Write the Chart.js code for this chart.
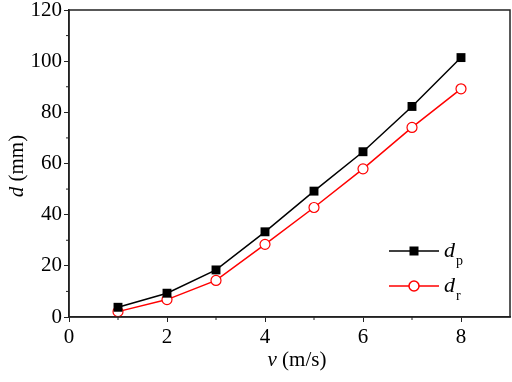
<!DOCTYPE html>
<html>
<head>
<meta charset="utf-8">
<script src="https://cdn.jsdelivr.net/npm/chart.js@4"></script>
<style>
  html, body { margin: 0; padding: 0; background: #fff; }
  #wrap { width: 512px; height: 382px; }
</style>
</head>
<body>
<div id="wrap"><canvas id="c" width="512" height="382"></canvas></div>
<script>
var speeds = [1, 2, 3, 4, 5, 6, 7, 8];
var dpValues = [3.8, 9.3, 18.4, 33.3, 49.2, 64.6, 82.3, 101.4];
var drValues = [2.1, 6.8, 14.3, 28.4, 42.8, 57.9, 74.1, 89.2];
var xTicks = [0, 2, 4, 6, 8];
var yTicks = [0, 20, 40, 60, 80, 100, 120];

var fontFam = '"Liberation Serif", "DejaVu Serif", serif';
var axisColor = '#222';

function pts(vals) {
    return speeds.map(function(v, i) { return { x: v, y: vals[i] }; });
}

// draws "italic + rest" centred at (0,0) of current transform
function mixedTitle(ctx, it, rest) {
    ctx.font = 'italic 21px ' + fontFam;
    var w1 = ctx.measureText(it).width;
    ctx.font = '21px ' + fontFam;
    var w2 = ctx.measureText(rest).width;
    var x0 = -(w1 + w2) / 2;
    ctx.textAlign = 'left';
    ctx.textBaseline = 'alphabetic';
    ctx.font = 'italic 21px ' + fontFam;
    ctx.fillText(it, x0, 0);
    ctx.font = '21px ' + fontFam;
    ctx.fillText(rest, x0 + w1, 0);
}

function noPad(s) {
    s.paddingTop = 0; s.paddingBottom = 0;
    s.paddingLeft = 0; s.paddingRight = 0;
}

// frame, minor ticks, titles and legend with subscripts
var extras = {
    id: 'extras',
    afterDraw: function(chart) {
        var ctx = chart.ctx;
        var a = chart.chartArea;
        var xs = chart.scales.x, ys = chart.scales.y;
        ctx.save();
        ctx.strokeStyle = axisColor;
        ctx.lineWidth = 1.5;
        ctx.strokeRect(a.left, a.top, a.right - a.left, a.bottom - a.top);

        // minor ticks
        ctx.lineWidth = 1;
        for (var v = 10; v < 120; v += 20) {
            var py = ys.getPixelForValue(v);
            ctx.beginPath(); ctx.moveTo(a.left - 3, py); ctx.lineTo(a.left, py); ctx.stroke();
        }
        for (var u = 1; u < 9; u += 2) {
            var px = xs.getPixelForValue(u);
            ctx.beginPath(); ctx.moveTo(px, a.bottom); ctx.lineTo(px, a.bottom + 3); ctx.stroke();
        }

        // axis titles
        ctx.fillStyle = '#000';
        ctx.save();
        ctx.translate(297, 366);
        mixedTitle(ctx, 'v', ' (m/s)');
        ctx.restore();
        ctx.save();
        ctx.translate(23, 166);
        ctx.rotate(-Math.PI / 2);
        mixedTitle(ctx, 'd', ' (mm)');
        ctx.restore();

        // legend
        var rows = [
            { y: 251, color: '#000', sub: 'p', square: true },
            { y: 286, color: '#ff0000', sub: 'r', square: false }
        ];
        rows.forEach(function(r) {
            ctx.strokeStyle = r.color;
            ctx.lineWidth = 1.5;
            ctx.beginPath(); ctx.moveTo(389, r.y); ctx.lineTo(439, r.y); ctx.stroke();
            if (r.square) {
                ctx.fillStyle = '#000';
                ctx.fillRect(414 - 4.5, r.y - 4.5, 9, 9);
            } else {
                ctx.fillStyle = '#fff';
                ctx.beginPath(); ctx.arc(414, r.y, 5, 0, Math.PI * 2); ctx.fill(); ctx.stroke();
            }
            ctx.fillStyle = '#000';
            ctx.textBaseline = 'alphabetic';
            ctx.textAlign = 'left';
            ctx.font = 'italic 22px ' + fontFam;
            ctx.fillText('d', 444, r.y + 6);
            ctx.font = '14px ' + fontFam;
            ctx.fillText(r.sub, 456, r.y + 14);
        });
        ctx.restore();
    }
};

new Chart(document.getElementById('c').getContext('2d'), {
    type: 'line',
    data: {
        datasets: [
            {
                label: 'dp',
                data: pts(dpValues),
                borderColor: '#000',
                backgroundColor: '#000',
                borderWidth: 1.5,
                pointStyle: 'rect',
                pointRadius: 6.3,
                pointBorderWidth: 0,
                tension: 0
            },
            {
                label: 'dr',
                data: pts(drValues),
                borderColor: '#ff0000',
                backgroundColor: '#fff',
                borderWidth: 1.5,
                pointStyle: 'circle',
                pointRadius: 5,
                pointBorderWidth: 1.2,
                tension: 0
            }
        ]
    },
    options: {
        responsive: false,
        animation: false,
        layout: { autoPadding: false, padding: { top: 10, right: 2, left: 0, bottom: 0 } },
        plugins: { legend: { display: false }, tooltip: { enabled: false } },
        scales: {
            x: {
                type: 'linear',
                min: 0, max: 9,
                afterBuildTicks: function(s) { s.ticks = xTicks.map(function(v) { return { value: v }; }); },
                afterFit: function(s) { s.height = 65; noPad(s); },
                grid: { drawOnChartArea: false, tickLength: 5, color: axisColor, lineWidth: 1 },
                border: { color: axisColor, width: 1.5 },
                ticks: { color: '#000', padding: 3, maxRotation: 0, font: { family: fontFam, size: 21 } },
                title: { display: false }
            },
            y: {
                type: 'linear',
                min: 0, max: 120,
                afterBuildTicks: function(s) { s.ticks = yTicks.map(function(v) { return { value: v }; }); },
                afterFit: function(s) { s.width = 69; noPad(s); },
                grid: { drawOnChartArea: false, tickLength: 5, color: axisColor, lineWidth: 1 },
                border: { color: axisColor, width: 1.5 },
                ticks: { color: '#000', padding: 2, font: { family: fontFam, size: 21 } },
                title: { display: false }
            }
        }
    },
    plugins: [extras]
});
</script>
</body>
</html>
